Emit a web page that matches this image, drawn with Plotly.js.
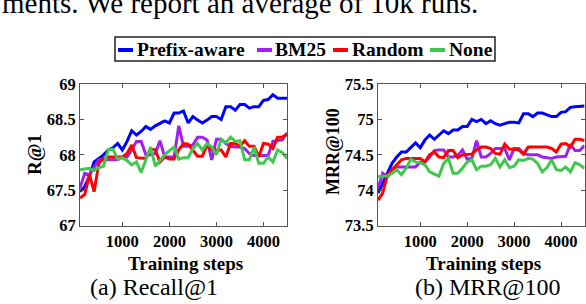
<!DOCTYPE html>
<html>
<head>
<meta charset="utf-8">
<script src="https://cdn.plot.ly/plotly-3.0.1.min.js"></script>
<style>
  html, body { margin: 0; padding: 0; background: #fff; }
  #chart { width: 586px; height: 304px; }
</style>
</head>
<body>
<div id="chart"></div>
<script>
// ---------------- data ----------------
const steps = [100,200,300,400,500,600,700,800,900,1000,1100,1200,1300,1400,1500,1600,1700,1800,1900,2000,2100,2200,2300,2400,2500,2600,2700,2800,2900,3000,3100,3200,3300,3400,3500,3600,3700,3800,3900,4000,4100,4200,4300,4400,4500];

const seriesNames = ["Prefix-aware", "BM25", "Random", "None"];
const seriesColors = ["#0000ff", "#a020f0", "#ff0000", "#3ec84e"];

// Recall@1
const prefixR1 = [67.48,67.55,67.70,67.90,67.95,68.00,68.07,68.10,68.16,68.07,68.19,68.34,68.28,68.33,68.40,68.36,68.41,68.45,68.48,68.45,68.59,68.59,68.62,68.45,68.54,68.49,68.45,68.49,68.54,68.54,68.50,68.68,68.68,68.63,68.71,68.71,68.66,68.68,68.68,68.77,68.78,68.85,68.80,68.80,68.80];
const bm25R1 = [67.53,67.74,67.72,67.83,67.93,67.93,67.93,67.93,67.93,67.97,67.97,68.07,68.19,68.19,68.00,68.00,68.02,68.20,67.97,67.97,67.97,68.41,68.12,68.12,68.14,68.25,68.25,68.21,67.93,68.22,68.22,68.16,68.12,68.11,68.11,68.09,68.02,67.99,67.99,67.99,67.99,68.19,68.20,68.21,68.31];
const randomR1 = [67.39,67.44,67.72,67.48,67.88,67.95,67.97,67.97,67.97,67.97,68.02,68.14,67.96,67.96,67.95,68.08,68.07,67.90,67.97,67.94,67.94,68.07,68.16,68.15,68.07,67.98,67.98,68.14,68.07,68.07,68.07,67.97,68.16,68.16,68.12,68.20,68.12,68.12,67.97,68.16,68.15,68.09,68.25,68.25,68.29];
const noneR1 = [67.79,67.80,67.81,67.78,67.82,67.84,68.07,68.08,67.94,67.96,67.92,67.86,67.90,67.75,67.94,68.11,67.84,67.92,68.00,68.06,68.11,67.94,67.96,67.96,68.09,68.16,68.07,68.16,68.11,68.00,68.22,68.17,68.25,68.19,68.20,67.93,67.93,68.11,67.88,67.88,67.97,67.90,68.07,68.03,67.95];

// MRR@100
const prefixMRR = [73.96,74.10,74.22,74.38,74.47,74.54,74.54,74.60,74.67,74.60,74.71,74.78,74.72,74.78,74.84,74.80,74.85,74.85,74.90,74.90,75.00,74.97,75.00,74.94,74.98,74.94,74.92,74.94,74.96,74.96,74.95,75.08,75.08,75.04,75.09,75.09,75.06,75.04,75.04,75.10,75.11,75.17,75.18,75.18,75.19];
const bm25MRR = [74.03,74.24,74.19,74.29,74.33,74.33,74.33,74.33,74.33,74.40,74.40,74.47,74.56,74.57,74.57,74.47,74.47,74.49,74.57,74.44,74.45,74.70,74.47,74.47,74.52,74.59,74.59,74.59,74.43,74.59,74.59,74.52,74.50,74.50,74.50,74.47,74.46,74.45,74.47,74.48,74.48,74.65,74.56,74.56,74.63];
const randomMRR = [73.86,73.96,74.22,74.29,74.36,74.43,74.45,74.45,74.45,74.45,74.40,74.50,74.54,74.47,74.46,74.56,74.56,74.46,74.50,74.50,74.51,74.57,74.61,74.61,74.59,74.52,74.51,74.65,74.58,74.58,74.57,74.51,74.61,74.61,74.61,74.62,74.61,74.59,74.54,74.65,74.66,74.61,74.72,74.72,74.70];
const noneMRR = [74.19,74.20,74.20,74.24,74.29,74.22,74.31,74.44,74.40,74.39,74.36,74.26,74.23,74.20,74.38,74.45,74.24,74.24,74.31,74.40,74.43,74.29,74.34,74.34,74.36,74.45,74.33,74.43,74.32,74.34,74.43,74.42,74.45,74.44,74.38,74.26,74.32,74.43,74.29,74.28,74.33,74.26,74.39,74.36,74.31];

const xTickVals = [1000, 2000, 3000, 4000];
const xTickText = ["1000", "2000", "3000", "4000"];
const r1TickVals = [67, 67.5, 68, 68.5, 69];
const r1TickText = ["67", "67.5", "68", "68.5", "69"];
const mrrTickVals = [73.5, 74, 74.5, 75, 75.5];
const mrrTickText = ["73.5", "74", "74.5", "75", "75.5"];

const xTitle = "Training steps";
const yTitleLeft = "R@1";
const yTitleRight = "MRR@100";
const captionLeft = "(a) Recall@1";
const captionRight = "(b) MRR@100";
const bodyText = "ments. We report an average of 10k runs.";

// ---------------- drawing ----------------
const W = 586, H = 304;
const px = v => v / W;
const py = v => 1 - v / H;

const SERIF = "Liberation Serif";
const leftSeries = [prefixR1, bm25R1, randomR1, noneR1];
const rightSeries = [prefixMRR, bm25MRR, randomMRR, noneMRR];

const traces = [];
leftSeries.forEach((ys, i) => traces.push({
  type: "scatter", mode: "lines", x: steps, y: ys, name: seriesNames[i],
  xaxis: "x", yaxis: "y", showlegend: false,
  line: { color: seriesColors[i], width: 3 }
}));
rightSeries.forEach((ys, i) => traces.push({
  type: "scatter", mode: "lines", x: steps, y: ys, name: seriesNames[i],
  xaxis: "x2", yaxis: "y2", showlegend: false,
  line: { color: seriesColors[i], width: 3 }
}));

const axisCommon = {
  showgrid: false, zeroline: false, showline: true, linecolor: "#555", linewidth: 1,
  mirror: "allticks", ticks: "inside", ticklen: 4, tickcolor: "#555", tickwidth: 1,
  tickfont: { family: SERIF, size: 16.5, color: "#000", weight: "bold" }
};

const yDom = [py(225.7), py(84)];

const layout = {
  width: W, height: H,
  margin: { l: 0, r: 0, t: 0, b: 0 },
  paper_bgcolor: "#fff", plot_bgcolor: "#fff",
  showlegend: false,
  xaxis: Object.assign({}, axisCommon, { domain: [px(80), px(287)], range: [100, 4500], tickvals: xTickVals, ticktext: xTickText, anchor: "y" }),
  yaxis: Object.assign({}, axisCommon, { domain: yDom, range: [67, 69], tickvals: r1TickVals, ticktext: r1TickText, anchor: "x" }),
  xaxis2: Object.assign({}, axisCommon, { domain: [px(378), px(584.5)], range: [100, 4500], tickvals: xTickVals, ticktext: xTickText, anchor: "y2" }),
  yaxis2: Object.assign({}, axisCommon, { domain: yDom, range: [73.5, 75.5], tickvals: mrrTickVals, ticktext: mrrTickText, anchor: "x2" }),
  annotations: [],
  shapes: []
};

function note(text, x, y, opts) {
  layout.annotations.push(Object.assign({
    text: text, x: px(x), y: py(y), xref: "paper", yref: "paper",
    showarrow: false, xanchor: "center", yanchor: "middle",
    font: { family: SERIF, size: 16, color: "#000" }
  }, opts || {}));
}

// body text clipped at top (as in the reference)
note(bodyText, 0, 3, { xanchor: "left", font: { family: SERIF, size: 29, color: "#000" } });

// axis titles
note(xTitle, 185, 263, { font: { family: SERIF, size: 19, color: "#000", weight: "bold" } });
note(xTitle, 483, 263, { font: { family: SERIF, size: 19, color: "#000", weight: "bold" } });
note(yTitleLeft, 35, 155, { textangle: -90, font: { family: SERIF, size: 19, color: "#000", weight: "bold" } });
note(yTitleRight, 333, 152, { textangle: -90, font: { family: SERIF, size: 18, color: "#000", weight: "bold" } });

// captions
note(captionLeft, 154, 287, { font: { family: SERIF, size: 24, color: "#000" } });
note(captionRight, 487, 287, { font: { family: SERIF, size: 24, color: "#000" } });

// legend box (built from series names / colours)
layout.shapes.push({ type: "rect", xref: "paper", yref: "paper",
  x0: px(115), x1: px(495), y0: py(61), y1: py(37),
  line: { color: "#222", width: 1.5 }, fillcolor: "rgba(0,0,0,0)" });
const legSwatchX = [118, 257, 333, 430];
const legTextX = [135, 273, 350, 447];
seriesNames.forEach((nm, i) => {
  layout.shapes.push({ type: "line", xref: "paper", yref: "paper",
    x0: px(legSwatchX[i]), x1: px(legSwatchX[i] + 15), y0: py(50), y1: py(50),
    line: { color: seriesColors[i], width: 4 } });
  note(nm, legTextX[i], 49.5, { xanchor: "left", font: { family: SERIF, size: 19.5, color: "#000", weight: "bold" } });
});

Plotly.newPlot("chart", traces, layout, { staticPlot: true, displayModeBar: false });
</script>
</body>
</html>
